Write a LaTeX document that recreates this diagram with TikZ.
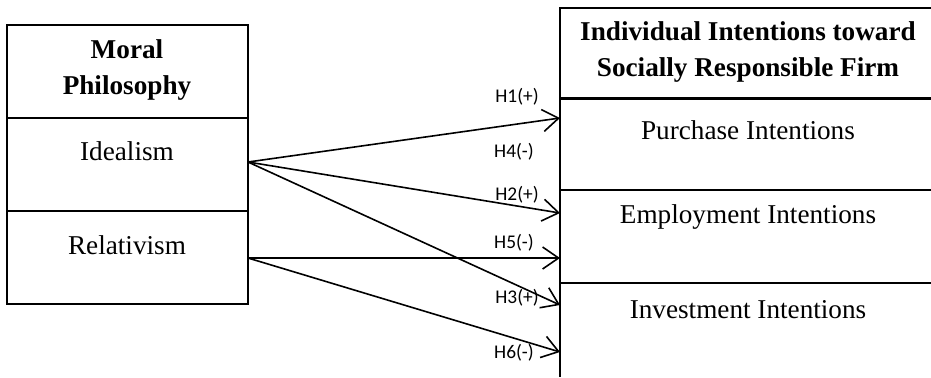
\documentclass[tikz,border=0pt]{standalone}
\usepackage{fontspec}
\setmainfont{Liberation Serif}
\newfontfamily\hfont{Carlito}
\usetikzlibrary{arrows.meta}

\tikzset{
  txt/.style={font=\fontsize{13.6}{16}\selectfont},
  head/.style={font=\bfseries\fontsize{13.6}{18}\selectfont, align=center},
  hyp/.style={font=\hfont\fontsize{9.7}{11}\selectfont, inner sep=1pt},
  path/.style={-{Straight Barb[length=8pt,width=11pt,line width=0.8pt]}, line width=0.8pt}
}

\begin{document}
\begin{tikzpicture}[x=0.5pt,y=-0.5pt,line width=0.9pt]
  \useasboundingbox (0,0) rectangle (931,377);
  % moral philosophy box
  \draw (7,25) rectangle (248,304);
  \draw (7,118) -- (248,118) (7,211) -- (248,211);
  \node[head] (mp) at (127,70) {Moral\\Philosophy};
  \node[txt] (ide) at (127,151) {Idealism};
  \node[txt] (rel) at (127,245) {Relativism};
  % intentions box
  \draw (931,8) -- (560,8) -- (560,377);
  \draw[line width=1.5pt] (560,98) -- (931,98);
  \draw (560,190) -- (931,190) (560,283) -- (931,283);
  \node[head] (ii) at (748,52) {Individual Intentions toward\\Socially Responsible Firm};
  \node[txt] (pur) at (748,130) {Purchase Intentions};
  \node[txt] (emp) at (748,217) {Employment Intentions};
  \node[txt] (inv) at (748,310) {Investment Intentions};
  % ends of the paths
  \coordinate (i) at (248,162);
  \coordinate (r) at (248,258);
  \coordinate (p1) at (560,118);
  \coordinate (e1) at (560,213);
  \coordinate (e2) at (560,258);
  \coordinate (v1) at (560,305);
  \coordinate (v2) at (560,352);
  \path[path]
    (i) edge (p1) edge (e1) edge (v1)
    (r) edge (e2) edge (v2);
  % hypotheses
  \node[hyp] (h1) at (517,97) {H1(+)};
  \node[hyp] (h4) at (514,152) {H4(-)};
  \node[hyp] (h2) at (517,195) {H2(+)};
  \node[hyp] (h5) at (514,243) {H5(-)};
  \node[hyp] (h3) at (517,298) {H3(+)};
  \node[hyp] (h6) at (514,353) {H6(-)};
\end{tikzpicture}
\end{document}
